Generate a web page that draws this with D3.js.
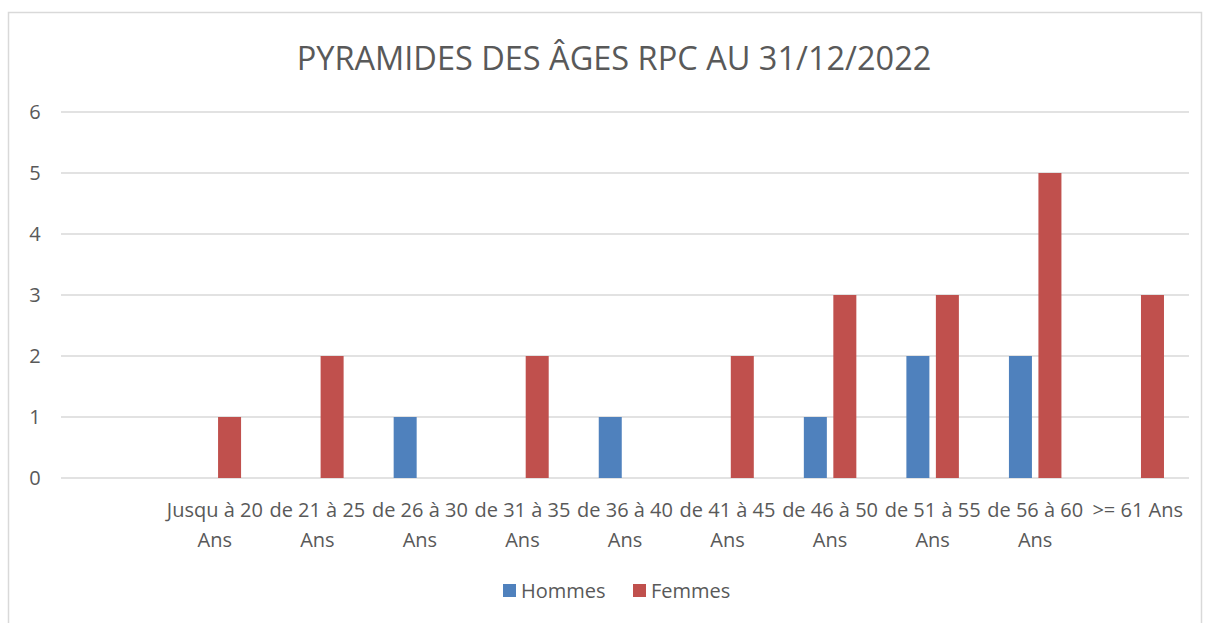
<!DOCTYPE html>
<html>
<head>
<meta charset="utf-8">
<script src="https://cdn.jsdelivr.net/npm/d3@7"></script>
<style>
  body { margin: 0; background: #fff; }
  text { font-family: "Open Sans", "Noto Sans", sans-serif; fill: #595959; }
</style>
</head>
<body>
<svg id="chart"></svg>
<script>
const categories = ["", "Jusqu à 20 Ans", "de 21 à 25 Ans", "de 26 à 30 Ans", "de 31 à 35 Ans", "de 36 à 40 Ans",
  "de 41 à 45 Ans", "de 46 à 50 Ans", "de 51 à 55 Ans", "de 56 à 60 Ans", ">= 61 Ans"]
const hommes = [0, 0, 0, 1, 0, 1, 0, 1, 2, 2, 0]
const femmes = [0, 1, 2, 0, 2, 0, 2, 3, 3, 5, 3]
const seriesNames = ["Hommes", "Femmes"]
const colors = ["#4F81BD", "#C0504D"]
const yTicks = [0, 1, 2, 3, 4, 5, 6]
const title = "PYRAMIDES DES ÂGES RPC AU 31/12/2022"

const width = 1208, height = 623
const margin = {top: 112, right: 19, bottom: 145, left: 61}

const svg = d3.select('#chart')
    .attr('width', width)
    .attr('height', height)

// chart frame
svg.append('rect')
    .attr('x', 8.5).attr('y', 12.5)
    .attr('width', 1193).attr('height', 640)
    .attr('fill', 'none')
    .attr('stroke', '#d9d9d9')
    .attr('stroke-width', 1.5)

const x = d3.scaleBand()
    .domain(categories)
    .range([margin.left, width - margin.right])

const x1 = d3.scaleBand()
    .domain(seriesNames)
    .range([x.bandwidth() / 2 - 26.25, x.bandwidth() / 2 + 26.25])
    .paddingInner(0.22)

const y = d3.scaleLinear()
    .domain([0, 6])
    .range([height - margin.bottom, margin.top])

// gridlines
svg.append('g')
    .selectAll('line')
    .data(yTicks)
    .join('line')
        .attr('x1', margin.left)
        .attr('x2', width - margin.right)
        .attr('y1', d => y(d))
        .attr('y2', d => y(d))
        .attr('stroke', '#d9d9d9')
        .attr('stroke-width', 1.3)

// y labels
svg.append('g')
    .selectAll('text')
    .data(yTicks)
    .join('text')
        .attr('x', 35)
        .attr('y', d => y(d))
        .attr('dy', '0.36em')
        .attr('text-anchor', 'middle')
        .style('font-size', '20px')
        .text(d => d)

// bars
const rows = categories.map((c, i) => ({name: c, values: [hommes[i], femmes[i]]}))

svg.append('g')
    .selectAll('g')
    .data(rows)
    .join('g')
        .attr('transform', d => `translate(${x(d.name)},0)`)
    .selectAll('rect')
    .data(d => d.values.map((v, k) => ({key: seriesNames[k], value: v, color: colors[k]})))
    .join('rect')
        .filter(d => d.value > 0)
        .attr('x', d => x1(d.key))
        .attr('y', d => y(d.value))
        .attr('width', x1.bandwidth())
        .attr('height', d => y(0) - y(d.value))
        .attr('fill', d => d.color)

// x labels (wrap last word like Excel)
const xl = svg.append('g')
    .selectAll('text')
    .data(categories)
    .join('text')
        .attr('x', d => x(d) + x.bandwidth() / 2)
        .attr('y', 517)
        .attr('text-anchor', 'middle')
        .style('font-size', '20px')

xl.each(function(d) {
    const t = d3.select(this)
    t.text(d)
    if (this.getComputedTextLength() > x.bandwidth()) {
        const words = d.split(' ')
        const last = words.pop()
        t.text(null)
        t.append('tspan').attr('x', x(d) + x.bandwidth() / 2).text(words.join(' '))
        t.append('tspan').attr('x', x(d) + x.bandwidth() / 2).attr('dy', 30).text(last)
    }
})

// title
svg.append('text')
    .attr('x', 614)
    .attr('y', 70)
    .attr('text-anchor', 'middle')
    .style('font-size', '32.5px')
    .text(title)

// legend
const legendX = [503, 633]
const legend = svg.append('g')
    .selectAll('g')
    .data(seriesNames)
    .join('g')
        .attr('transform', (d, i) => `translate(${legendX[i]},584)`)

legend.append('rect')
    .attr('width', 13).attr('height', 13)
    .attr('fill', (d, i) => colors[i])

legend.append('text')
    .attr('x', 18)
    .attr('y', 7)
    .attr('dy', '0.36em')
    .style('font-size', '20px')
    .text(d => d)
</script>
</body>
</html>
